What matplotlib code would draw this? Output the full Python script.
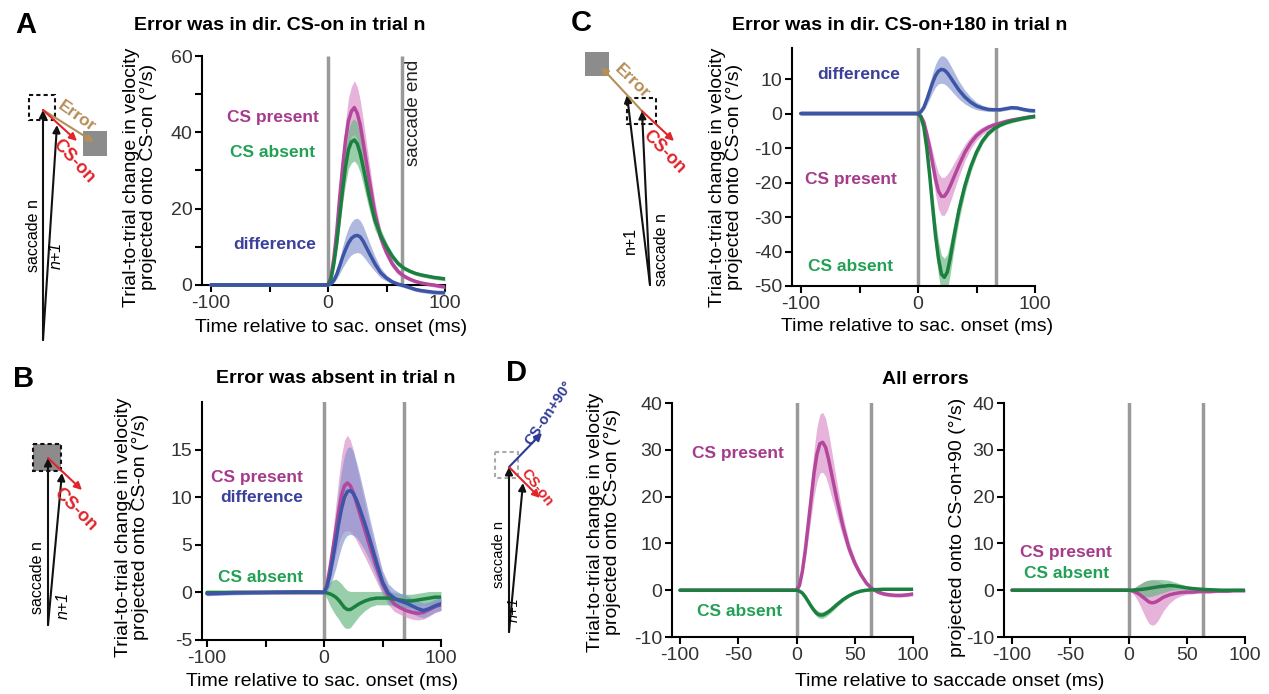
import matplotlib
matplotlib.use('Agg')
import matplotlib.pyplot as plt
from matplotlib.patches import Rectangle

W, H = 1269, 694

# time axis (ms relative to saccade onset)
t = [-100, -75, -50, -25, -5, 0, 2.5, 5, 7.5, 10, 12.5, 15, 17.5, 20, 22.5, 25, 27.5, 30,
     35, 40, 45, 50, 55, 60, 65, 70, 75, 80, 85, 90, 95, 100]

# panel A: error in direction CS-on
A_present = [0, 0, 0, 0, 0, 0, 2, 7, 14, 23, 31, 38, 43, 45.5, 46.5, 45, 42, 37.5,
             28, 19, 12.5, 8.5, 5.5, 3.5, 2.3, 1.5, 0.9, 0.5, 0.2, 0, -0.3, -0.5]
A_present_sem = [0.1, 0.1, 0.1, 0.1, 0.1, 0.1, 0.4, 1, 2, 3, 4, 5, 6, 6.5, 7, 7, 6.5, 6,
                 4.5, 3, 2, 1.3, 1, 0.8, 0.6, 0.5, 0.5, 0.5, 0.5, 0.5, 0.5, 0.5]
A_absent = [0, 0, 0, 0, 0, 0, 1.5, 5.5, 11, 18, 25, 31, 35.5, 37.5, 38, 37, 34.5, 31,
            23.5, 17, 13, 10, 7.5, 5.6, 4.4, 3.6, 3.0, 2.6, 2.3, 2.0, 1.8, 1.6]
A_absent_sem = [0.1, 0.1, 0.1, 0.1, 0.1, 0.1, 0.3, 0.8, 1.5, 2.5, 3.5, 4.5, 5, 5.5, 5.5, 5.5, 5, 4.5,
                3.5, 2.5, 1.7, 1.2, 0.9, 0.7, 0.6, 0.5, 0.5, 0.5, 0.5, 0.5, 0.5, 0.5]
A_diff = [0, 0, 0, 0, 0, 0, 0.3, 1.2, 2.8, 5, 7.3, 9.3, 11, 12.2, 12.8, 13, 12.6, 11.5,
          8.5, 5.6, 3.2, 1.8, 0.8, 0.2, -0.2, -0.7, -1.2, -1.5, -1.7, -1.9, -2, -2]
A_diff_sem = [0.1, 0.1, 0.1, 0.1, 0.1, 0.1, 0.2, 0.6, 1.2, 2, 2.8, 3.5, 4, 4.3, 4.5, 4.5, 4.3, 4,
              3, 2, 1.3, 0.8, 0.6, 0.5, 0.5, 0.5, 0.5, 0.5, 0.5, 0.5, 0.5, 0.5]

# panel B: error absent
B_present = [-0.1, 0, 0, 0, 0, 0, 0.8, 2.5, 4.5, 6.5, 8.5, 10.2, 11.2, 11.5, 11.2, 10.5, 9.5, 8.5,
             6.5, 4.5, 2.6, 0.9, -0.4, -1.2, -1.6, -1.9, -2.1, -2.2, -2.1, -1.8, -1.5, -1.3]
B_present_sem = [0.2, 0.2, 0.2, 0.2, 0.2, 0.2, 0.4, 1, 1.8, 2.6, 3.4, 4.2, 4.8, 5, 4.8, 4.5, 4, 3.6,
                 2.8, 2.1, 1.5, 1.1, 0.9, 0.8, 0.7, 0.7, 0.7, 0.7, 0.7, 0.7, 0.6, 0.6]
B_absent = [0, 0, 0, 0, 0, 0, -0.05, -0.15, -0.3, -0.5, -0.8, -1.2, -1.6, -1.8, -1.8, -1.6, -1.4, -1.2,
            -0.9, -0.7, -0.6, -0.6, -0.6, -0.7, -0.8, -0.9, -0.9, -0.8, -0.7, -0.6, -0.5, -0.5]
B_absent_sem = [0.1, 0.1, 0.1, 0.1, 0.1, 0.1, 0.6, 1.2, 1.6, 1.9, 2, 2.1, 2.1, 2, 1.9, 1.7, 1.5, 1.3,
                1, 0.8, 0.7, 0.7, 0.7, 0.7, 0.7, 0.7, 0.7, 0.7, 0.7, 0.7, 0.6, 0.6]
B_diff = [-0.15, -0.05, 0, 0.05, 0.05, 0, 0.6, 1.8, 3.5, 5.3, 7.2, 8.8, 10, 10.6, 10.7, 10.4, 9.8, 9,
          7.2, 5.2, 3.1, 1.1, -0.1, -0.6, -0.9, -1.1, -1.4, -1.7, -1.9, -1.7, -1.4, -1.2]
B_diff_sem = [0.2, 0.2, 0.2, 0.2, 0.2, 0.2, 0.5, 1.2, 2, 2.8, 3.5, 4, 4.4, 4.6, 4.6, 4.4, 4, 3.6,
              2.8, 2.1, 1.6, 1.2, 1, 0.9, 0.8, 0.8, 0.8, 0.8, 0.8, 0.7, 0.7, 0.7]

# panel C: error in direction CS-on+180
C_present = [0, 0, 0, 0, 0, 0, -0.8, -2.5, -6, -10, -14.5, -19, -22.5, -24, -24, -22.8, -21, -19,
             -15, -11.3, -8.5, -6.4, -5, -4, -3.3, -2.8, -2.3, -1.9, -1.6, -1.3, -1, -0.8]
C_present_sem = [0.1, 0.1, 0.1, 0.1, 0.1, 0.1, 0.3, 0.8, 1.5, 2.5, 3.5, 4.5, 5.2, 5.5, 5.5, 5.2, 4.7, 4.2,
                 3.2, 2.4, 1.8, 1.4, 1.1, 0.9, 0.7, 0.6, 0.5, 0.5, 0.5, 0.5, 0.5, 0.5]
C_absent = [0, 0, 0, 0, 0, 0, -1, -4, -10, -18, -27, -35.5, -42, -46.5, -47.5, -46, -42, -37,
            -28, -21, -15.5, -11.2, -8, -5.8, -4.4, -3.4, -2.7, -2.2, -1.8, -1.4, -1.1, -0.8]
C_absent_sem = [0.1, 0.1, 0.1, 0.1, 0.1, 0.1, 0.3, 1, 2, 3, 3.8, 4.5, 5, 5.5, 5.5, 5.2, 4.6, 4,
                3, 2.2, 1.6, 1.2, 0.9, 0.7, 0.6, 0.5, 0.5, 0.5, 0.5, 0.5, 0.5, 0.5]
C_diff = [0, 0, 0, 0, 0, 0, 0.5, 1.8, 4, 6.5, 9, 11, 12.3, 12.8, 12.6, 11.8, 10.6, 9.3,
          6.8, 4.8, 3.3, 2.2, 1.6, 1.2, 1.1, 1.1, 1.4, 1.7, 1.6, 1.2, 0.9, 0.8]
C_diff_sem = [0.1, 0.1, 0.1, 0.1, 0.1, 0.1, 0.3, 0.8, 1.5, 2.2, 2.8, 3.3, 3.7, 4, 4, 3.9, 3.6, 3.3,
              2.6, 2, 1.5, 1.1, 0.8, 0.6, 0.5, 0.5, 0.5, 0.5, 0.5, 0.5, 0.5, 0.5]

# panel D: all errors, projected onto CS-on
D_present = [0, 0, 0, 0, 0, 0, 1, 4, 8.5, 14, 19.5, 25, 29, 31.3, 31.6, 30.5, 28, 25,
             19, 13.5, 9, 5.8, 3.4, 1.5, 0.3, -0.4, -0.8, -1, -1.1, -1.1, -1, -0.8]
D_present_sem = [0.1, 0.1, 0.1, 0.1, 0.1, 0.1, 0.4, 1, 2, 3, 4, 5, 5.8, 6.3, 6.4, 6.2, 5.7, 5,
                 3.5, 2.3, 1.5, 1, 0.7, 0.5, 0.4, 0.4, 0.4, 0.4, 0.4, 0.4, 0.4, 0.4]
D_absent = [0, 0, 0, 0, 0, 0, -0.2, -0.6, -1.4, -2.4, -3.4, -4.3, -5, -5.3, -5.3, -5, -4.6, -4.1,
            -3, -2, -1.2, -0.6, -0.2, 0, 0.1, 0.15, 0.2, 0.2, 0.2, 0.2, 0.2, 0.2]
D_absent_sem = [0.05, 0.05, 0.05, 0.05, 0.05, 0.05, 0.1, 0.2, 0.3, 0.4, 0.5, 0.6, 0.7, 0.7, 0.7, 0.7, 0.6, 0.6,
                0.5, 0.4, 0.3, 0.2, 0.2, 0.2, 0.2, 0.2, 0.2, 0.2, 0.2, 0.2, 0.2, 0.2]

# panel D: projected onto CS-on+90
E_present = [0, 0, 0, 0, 0, 0, -0.1, -0.3, -0.6, -1, -1.5, -2, -2.5, -2.7, -2.6, -2.3, -1.9, -1.5,
             -1, -0.7, -0.5, -0.4, -0.4, -0.3, -0.3, -0.3, -0.2, -0.2, -0.2, -0.1, -0.1, -0.1]
E_present_sem = [0.1, 0.1, 0.1, 0.1, 0.1, 0.1, 0.3, 0.8, 1.5, 2.3, 3.2, 4, 4.6, 4.8, 4.7, 4.3, 3.6, 2.9,
                 1.8, 1.1, 0.7, 0.5, 0.4, 0.3, 0.3, 0.3, 0.3, 0.3, 0.3, 0.3, 0.3, 0.3]
E_absent = [0, 0, 0, 0, 0, 0, 0, 0.05, 0.1, 0.15, 0.2, 0.3, 0.4, 0.5, 0.6, 0.7, 0.8, 0.85,
            1, 0.9, 0.7, 0.5, 0.35, 0.25, 0.15, 0.1, 0.05, 0, 0, 0, 0, 0]
E_absent_sem = [0.05, 0.05, 0.05, 0.05, 0.05, 0.05, 0.2, 0.5, 0.9, 1.2, 1.5, 1.7, 1.8, 1.8, 1.7, 1.6, 1.5, 1.4,
                1.1, 0.8, 0.6, 0.4, 0.3, 0.2, 0.2, 0.2, 0.2, 0.2, 0.2, 0.2, 0.2, 0.2]

sac_onset = 0
sac_end = {'A': 63, 'B': 68, 'C': 67, 'D': 64}

plt.rcParams['font.family'] = ['Liberation Sans', 'DejaVu Sans']
plt.rcParams['axes.unicode_minus'] = False

c_present, f_present, t_present = '#B3479B', '#D98BC7', '#A63A8B'
c_absent, f_absent, t_absent = '#1B7F3F', '#63B57E', '#22A054'
c_diff, f_diff, t_diff = '#3D55A6', '#8494CF', '#3B409B'
c_gray = '#9A9A9A'
c_err, c_cson, c_cs90 = '#B58E58', '#E0252B', '#2E3A94'

fig = plt.figure(figsize=(W / 100, H / 100), dpi=100)


def box(l, r, top, bot):
    return [l / W, 1 - bot / H, (r - l) / W, (bot - top) / H]


def setup(ax, xlim, ylim, yticks, xlabels, end, zero_axis=False):
    ax.set_xlim(*xlim)
    ax.set_ylim(*ylim)
    ax.spines['top'].set_visible(False)
    ax.spines['right'].set_visible(False)
    for s in ('left', 'bottom'):
        ax.spines[s].set_linewidth(1.5)
    ax.set_xticks([-100, -50, 0, 50, 100])
    ax.set_xticklabels(xlabels)
    ax.set_yticks(yticks)
    ax.tick_params(direction='out', length=5, width=1.5, labelsize=14, colors='k',
                   labelcolor='#333333', pad=2)
    if zero_axis:
        ax.spines['bottom'].set_position(('data', 0))
        ax.spines['left'].set_bounds(0, ylim[1])
        ax.vlines([sac_onset, end], 0, ylim[1], color=c_gray, lw=2.5, zorder=1)
    else:
        ax.axvline(sac_onset, color=c_gray, lw=2.5, zorder=1)
        ax.axvline(end, color=c_gray, lw=2.5, zorder=1)
    ax.patch.set_visible(False)


def trace(ax, mean, sem, col, fill):
    lo = [m - s for m, s in zip(mean, sem)]
    hi = [m + s for m, s in zip(mean, sem)]
    ax.fill_between(t, lo, hi, color=fill, lw=0, alpha=0.65, zorder=2)
    ax.plot(t, mean, color=col, lw=2.5, zorder=3, solid_capstyle='round')


few = ['-100', '', '0', '', '100']
allx = ['-100', '-50', '0', '50', '100']

axA = fig.add_axes(box(202, 445, 56, 294.5))
setup(axA, (-107.7, 100), (-2.5, 60), [0, 10, 20, 30, 40, 50, 60],
      few, sac_end['A'], zero_axis=True)
axA.set_yticklabels(['0', '', '20', '', '40', '', '60'])
trace(axA, A_present, A_present_sem, c_present, f_present)
trace(axA, A_absent, A_absent_sem, c_absent, f_absent)
trace(axA, A_diff, A_diff_sem, c_diff, f_diff)

axB = fig.add_axes(box(202, 441, 402, 640))
setup(axB, (-104.3, 100), (-5, 20), [-5, 0, 5, 10, 15], few, sac_end['B'])
trace(axB, B_present, B_present_sem, c_present, f_present)
trace(axB, B_absent, B_absent_sem, c_absent, f_absent)
trace(axB, B_diff, B_diff_sem, c_diff, f_diff)

axC = fig.add_axes(box(792, 1035, 48, 286))
setup(axC, (-107.7, 100), (-50, 19), [-50, -40, -30, -20, -10, 0, 10], few, sac_end['C'])
trace(axC, C_present, C_present_sem, c_present, f_present)
trace(axC, C_absent, C_absent_sem, c_absent, f_absent)
trace(axC, C_diff, C_diff_sem, c_diff, f_diff)

axD = fig.add_axes(box(672, 913, 403, 637))
setup(axD, (-106.9, 100), (-10, 40), [-10, 0, 10, 20, 30, 40], allx, sac_end['D'])
trace(axD, D_present, D_present_sem, c_present, f_present)
trace(axD, D_absent, D_absent_sem, c_absent, f_absent)

axE = fig.add_axes(box(1004, 1245, 403, 637))
setup(axE, (-106.9, 100), (-10, 40), [-10, 0, 10, 20, 30, 40], allx, sac_end['D'])
trace(axE, E_present, E_present_sem, c_present, f_present)
trace(axE, E_absent, E_absent_sem, c_absent, f_absent)

# overlay in pixel coordinates for labels and the schematic diagrams
ov = fig.add_axes([0, 0, 1, 1], zorder=-1)
ov.set_xlim(0, W)
ov.set_ylim(H, 0)
ov.axis('off')


def txt(x, y, s, size=14, **kw):
    ov.text(x, y, s, fontsize=size, ha=kw.pop('ha', 'center'), va=kw.pop('va', 'center'), **kw)


for lab, (x, y) in {'A': (26, 25), 'B': (24, 379), 'C': (581, 23), 'D': (517, 373)}.items():
    txt(x, y, lab, 21, fontweight='bold')

txt(280, 25, 'Error was in dir. CS-on in trial n', 14, fontweight='bold')
txt(900, 25, 'Error was in dir. CS-on+180 in trial n', 14, fontweight='bold')
txt(336, 378, 'Error was absent in trial n', 14, fontweight='bold')
txt(925, 379, 'All errors', 14, fontweight='bold')

ylab = 'Trial-to-trial change in velocity\nprojected onto CS-on (°/s)'
for x, y in [(140, 177), (132, 527), (726, 177), (604, 522)]:
    txt(x, y, ylab, 14, rotation=90, multialignment='center', linespacing=1.05)
txt(958, 527, 'projected onto CS-on+90 (°/s)', 14, rotation=90)

txt(331, 327, 'Time relative to sac. onset (ms)', 14)
txt(322, 682, 'Time relative to sac. onset (ms)', 14)
txt(917, 326, 'Time relative to sac. onset (ms)', 14)
txt(950, 682, 'Time relative to saccade onset (ms)', 14)

bold = dict(fontweight='bold')
txt(273, 117, 'CS present', 12.5, color=t_present, **bold)
txt(273, 152, 'CS absent', 12.5, color=t_absent, **bold)
txt(275, 244, 'difference', 12.5, color=t_diff, **bold)
txt(413, 113, 'saccade end', 13.5, rotation=90, color='#222222')

txt(303, 477, 'CS present', 12.5, color=t_present, ha='right', **bold)
txt(303, 497, 'difference', 12.5, color=t_diff, ha='right', **bold)
txt(303, 578, 'CS absent', 12.5, color=t_absent, ha='right', **bold)

txt(859, 74, 'difference', 12.5, color=t_diff, **bold)
txt(851, 179, 'CS present', 12.5, color=t_present, **bold)
txt(851, 266, 'CS absent', 12.5, color=t_absent, **bold)

txt(738, 453, 'CS present', 12.5, color=t_present, **bold)
txt(740, 611, 'CS absent', 12.5, color=t_absent, **bold)
txt(1066, 553, 'CS present', 12.5, color=t_present, **bold)
txt(1067, 573, 'CS absent', 12.5, color=t_absent, **bold)


def arrow(p0, p1, col='#111111', lw=1.5):
    ov.annotate('', xy=p1, xytext=p0,
                arrowprops=dict(arrowstyle='-|>', color=col, lw=lw, mutation_scale=11,
                                shrinkA=0, shrinkB=0))


def square(x0, x1, y0, y1, fill='none', edge='#111111', dash=True):
    ov.add_patch(Rectangle((x0, y0), x1 - x0, y1 - y0, facecolor=fill, edgecolor=edge,
                           lw=1.5 if edge != 'none' else 0,
                           linestyle=(0, (2, 1.5)) if dash else '-'))


# A diagram
square(29, 55, 95, 120)
square(83, 107, 131, 156, fill='#8C8C8C', edge='none', dash=False)
arrow((43, 340), (43, 110))
arrow((43, 340), (57, 125))
arrow((43, 110), (94, 142), col=c_err)
arrow((43, 110), (77, 141), col=c_cson)
txt(77, 116, 'Error', 12.5, rotation=-35, color=c_err, **bold)
txt(74, 161, 'CS-on', 13, rotation=-47, color=c_cson, **bold)
txt(33, 236, 'saccade n', 11.5, rotation=90)
txt(56, 255, 'n+1', 11.5, rotation=90, style='italic')

# C diagram
square(627, 656, 98, 124)
square(585, 609, 52, 76, fill='#8C8C8C', edge='none', dash=False)
arrow((650, 285), (642, 111))
arrow((650, 285), (627, 95))
arrow((642, 111), (601, 67), col=c_err)
arrow((642, 111), (674, 141), col=c_cson)
txt(632, 81, 'Error', 12.5, rotation=-44, color=c_err, **bold)
txt(664, 152, 'CS-on', 13, rotation=-46, color=c_cson, **bold)
txt(630, 240, 'n+1', 11.5, rotation=90)
txt(661, 250, 'saccade n', 11.5, rotation=90)

# B diagram
square(33, 61, 444, 471, fill='#8C8C8C')
arrow((48, 625), (48, 458))
arrow((48, 625), (62, 473))
arrow((48, 458), (82, 490), col=c_cson)
txt(75, 510, 'CS-on', 13, rotation=-45, color=c_cson, **bold)
txt(37, 578, 'saccade n', 11.5, rotation=90)
txt(63, 605, 'n+1', 11.5, rotation=90, style='italic')

# D diagram
square(495, 518, 452, 478, edge='#AAAAAA')
arrow((509, 632), (509, 467))
arrow((509, 632), (523, 483))
arrow((509, 467), (542, 433), col=c_cs90)
arrow((509, 467), (540, 498), col=c_cson)
txt(549, 413, 'CS-on+90°', 10.5, rotation=56, color=c_cs90, **bold)
txt(537, 488, 'CS-on', 10.5, rotation=-52, color=c_cson, **bold)
txt(499, 555, 'saccade n', 10.5, rotation=90)
txt(514, 610, 'n+1', 10.5, rotation=90, style='italic')

fig.savefig('out.png', dpi=100)
